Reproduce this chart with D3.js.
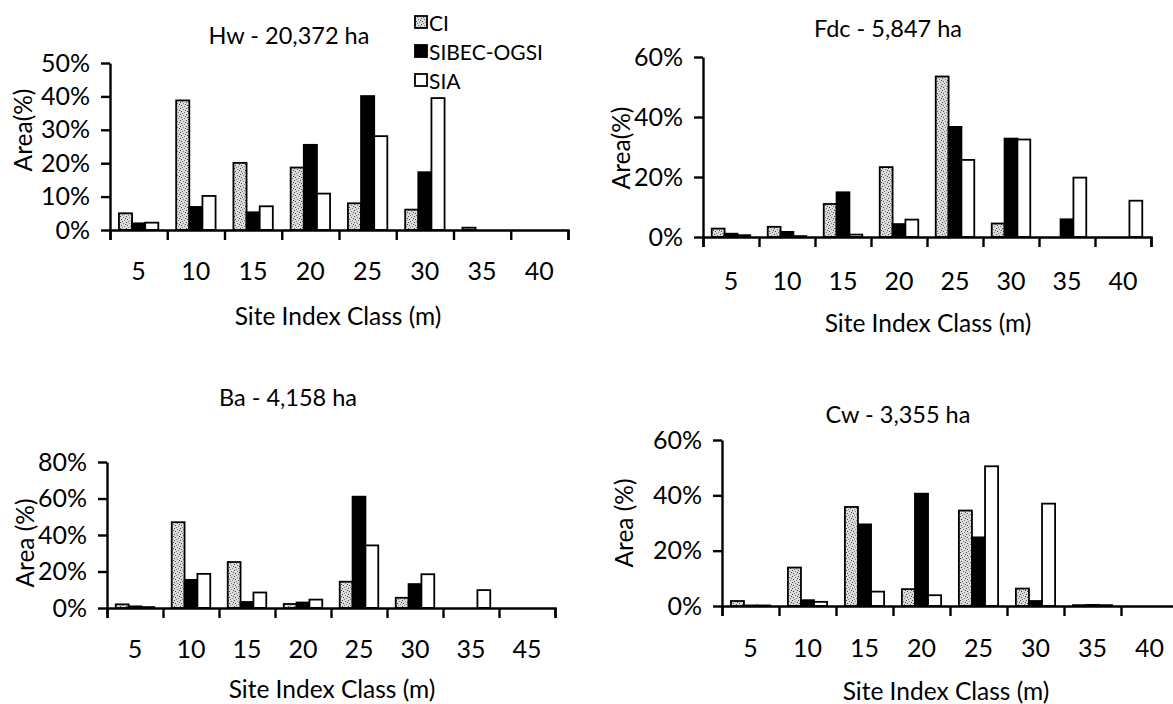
<!DOCTYPE html>
<html>
<head>
<meta charset="utf-8">
<script src="https://cdn.jsdelivr.net/npm/d3@7"></script>
<style>
  body { margin: 0; background: #fff; }
  svg { display: block; font-family: "Lato", "Open Sans", sans-serif; }
  .domain, .tick line { stroke: #000; stroke-width: 2.4; }
</style>
</head>
<body>
<div id="chart"></div>
<script>
// series shown in every panel
const seriesNames = ["CI", "SIBEC-OGSI", "SIA"];

// Hw - 20,372 ha
const hwClasses = ["5", "10", "15", "20", "25", "30", "35", "40"];
const hwCI    = [5.0, 38.8, 20.1, 18.7, 8.0, 6.1, 0.7, 0];
const hwSIBEC = [2.0, 6.9, 5.3, 25.5, 40.1, 17.3, 0, 0];
const hwSIA   = [2.2, 10.2, 7.1, 10.9, 28.1, 39.5, 0, 0];
const hwTicks = [0, 10, 20, 30, 40, 50];

// Fdc - 5,847 ha
const fdcClasses = ["5", "10", "15", "20", "25", "30", "35", "40"];
const fdcCI    = [2.8, 3.4, 11.0, 23.3, 53.5, 4.5, 0, 0];
const fdcSIBEC = [1.1, 1.7, 14.9, 4.3, 36.7, 32.8, 5.9, 0];
const fdcSIA   = [0.6, 0.3, 0.8, 5.8, 25.7, 32.5, 19.8, 12.1];
const fdcTicks = [0, 20, 40, 60];

// Ba - 4,158 ha
const baClasses = ["5", "10", "15", "20", "25", "30", "35", "45"];
const baCI    = [2.0, 47.0, 25.2, 2.2, 14.4, 5.6, 0, 0];
const baSIBEC = [0.9, 15.4, 3.3, 3.0, 61.0, 13.1, 0, 0];
const baSIA   = [0.5, 18.7, 8.5, 4.6, 34.3, 18.5, 9.8, 0];
const baTicks = [0, 20, 40, 60, 80];

// Cw - 3,355 ha
const cwClasses = ["5", "10", "15", "20", "25", "30", "35", "40"];
const cwCI    = [1.8, 13.9, 35.8, 6.1, 34.5, 6.3, 0.3, 0];
const cwSIBEC = [0.2, 2.1, 29.5, 40.6, 24.8, 1.8, 0.4, 0];
const cwSIA   = [0.2, 1.5, 5.2, 3.9, 50.5, 37.0, 0.3, 0];
const cwTicks = [0, 20, 40, 60];

const width = 1173;
const height = 704;

const svg = d3.select("#chart").append("svg")
    .attr("width", width)
    .attr("height", height);

// stippled grey fill for CI
const defs = svg.append("defs");
const pat = defs.append("pattern")
    .attr("id", "stipple")
    .attr("patternUnits", "userSpaceOnUse")
    .attr("width", 6).attr("height", 6);
pat.append("rect").attr("width", 6).attr("height", 6).attr("fill", "#dcdcdc");
[[0, 0], [3, 1], [1, 3], [4, 4], [5, 2], [2, 5]].forEach(([px, py], i) => {
    pat.append("rect")
        .attr("x", px).attr("y", py)
        .attr("width", 1).attr("height", 1)
        .attr("fill", i % 2 ? "#777" : "#444");
});

const fills = { "CI": "url(#stipple)", "SIBEC-OGSI": "#000", "SIA": "#fff" };

const panels = [
    { title: "Hw - 20,372 ha", classes: hwClasses, values: [hwCI, hwSIBEC, hwSIA], ticks: hwTicks,
      ylabel: "Area(%)", x0: 110, x1: 568, y0: 230, yTop: 63,
      titleX: 289, titleY: 35, labelY: 270, xtitleX: 338, xtitleY: 315, ylabX: 22, ylabY: 130 },
    { title: "Fdc - 5,847 ha", classes: fdcClasses, values: [fdcCI, fdcSIBEC, fdcSIA], ticks: fdcTicks,
      ylabel: "Area(%)", x0: 703, x1: 1151, y0: 237, yTop: 57,
      titleX: 888, titleY: 28, labelY: 280, xtitleX: 928, xtitleY: 322, ylabX: 620, ylabY: 148 },
    { title: "Ba - 4,158 ha", classes: baClasses, values: [baCI, baSIBEC, baSIA], ticks: baTicks,
      ylabel: "Area (%)", x0: 107, x1: 555, y0: 608, yTop: 462,
      titleX: 288, titleY: 397, labelY: 648, xtitleX: 332, xtitleY: 688, ylabX: 24, ylabY: 543 },
    { title: "Cw - 3,355 ha", classes: cwClasses, values: [cwCI, cwSIBEC, cwSIA], ticks: cwTicks,
      ylabel: "Area (%)", x0: 722, x1: 1178, y0: 606, yTop: 440,
      titleX: 898, titleY: 414, labelY: 647, xtitleX: 946, xtitleY: 690, ylabX: 623, ylabY: 523 }
];

panels.forEach(p => {
    const g = svg.append("g");
    const ymax = p.ticks[p.ticks.length - 1];

    const x = d3.scaleBand()
        .domain(p.classes)
        .range([p.x0, p.x1]);

    const xs = d3.scaleBand()
        .domain(seriesNames)
        .range([0, x.bandwidth()])
        .paddingOuter(0.68);

    const y = d3.scaleLinear()
        .domain([0, ymax])
        .range([p.y0, p.yTop]);

    // bars
    const rows = p.classes.flatMap((c, i) =>
        seriesNames.map((s, k) => ({ cls: c, series: s, value: p.values[k][i] })));

    g.append("g")
        .selectAll("rect")
        .data(rows)
        .join("rect")
        .attr("x", d => x(d.cls) + xs(d.series))
        .attr("y", d => y(d.value))
        .attr("width", xs.bandwidth())
        .attr("height", d => y(0) - y(d.value))
        .attr("fill", d => fills[d.series])
        .attr("stroke", "#000")
        .attr("stroke-width", 1.8);

    // x axis: boundary ticks
    const xb = d3.scaleLinear().domain([0, p.classes.length]).range([p.x0, p.x1]);
    g.append("g")
        .attr("transform", `translate(0,${p.y0})`)
        .call(d3.axisBottom(xb).tickValues(d3.range(p.classes.length + 1))
            .tickSize(10).tickSizeOuter(10).tickFormat(""));

    // x labels at class centres
    g.append("g")
        .selectAll("text")
        .data(p.classes)
        .join("text")
        .attr("x", d => x(d) + x.bandwidth() / 2)
        .attr("y", p.labelY)
        .attr("text-anchor", "middle")
        .attr("dominant-baseline", "central")
        .attr("font-size", 25)
        .text(d => d);

    // y axis
    const ya = g.append("g")
        .attr("transform", `translate(${p.x0},0)`)
        .call(d3.axisLeft(y).tickValues(p.ticks).tickSize(9).tickSizeOuter(0)
            .tickFormat(d => d + "%"));
    ya.selectAll("text")
        .attr("font-size", 25)
        .attr("font-family", "Lato, sans-serif")
        .attr("fill", "#000")
        .attr("x", -20);

    // titles
    g.append("text")
        .attr("x", p.titleX).attr("y", p.titleY)
        .attr("text-anchor", "middle").attr("dominant-baseline", "central")
        .attr("font-size", 23.5)
        .text(p.title);

    g.append("text")
        .attr("x", p.xtitleX).attr("y", p.xtitleY)
        .attr("text-anchor", "middle").attr("dominant-baseline", "central")
        .attr("font-size", 24.5)
        .text("Site Index Class (m)");

    g.append("text")
        .attr("transform", `translate(${p.ylabX},${p.ylabY}) rotate(-90)`)
        .attr("text-anchor", "middle").attr("dominant-baseline", "central")
        .attr("font-size", 24.5)
        .text(p.ylabel);
});

// legend (top-left panel)
const legend = svg.append("g").attr("transform", "translate(415,0)");
const legY = [22, 51, 80];
seriesNames.forEach((s, i) => {
    legend.append("rect")
        .attr("x", 0).attr("y", legY[i] - 6)
        .attr("width", 12).attr("height", 12)
        .attr("fill", fills[s])
        .attr("stroke", "#000").attr("stroke-width", 1.8);
    legend.append("text")
        .attr("x", 14).attr("y", legY[i])
        .attr("dominant-baseline", "central")
        .attr("font-size", 21)
        .text(s);
});
</script>
</body>
</html>
